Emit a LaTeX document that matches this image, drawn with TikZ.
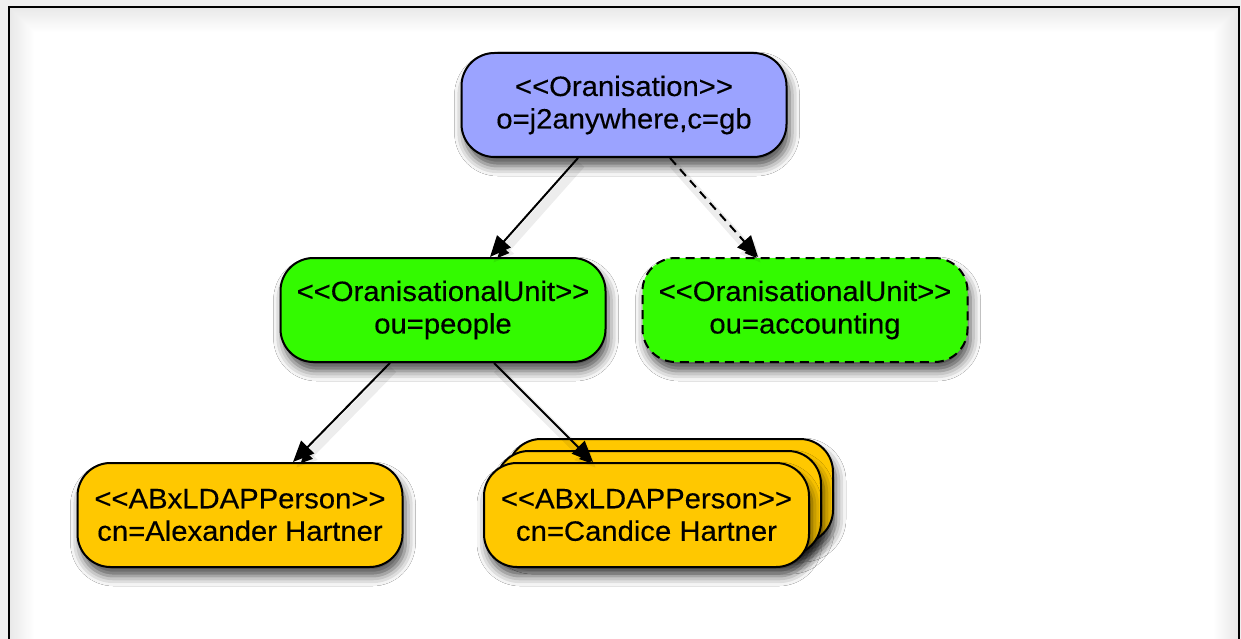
\documentclass[tikz,border=0pt]{standalone}
\usepackage{fontspec}
\setmainfont{Liberation Sans}[FakeStretch=1.045, FakeBold=0.3]
\usetikzlibrary{arrows.meta,calc,shadows.blur}

\definecolor{orgblue}{HTML}{9BA3FF}
\definecolor{ougreen}{HTML}{33FA00}
\definecolor{persongold}{HTML}{FFC800}
\definecolor{pagegray}{HTML}{EFEFEF}

% guillemet-like brackets kept as two separate characters
\newcommand\opn{<\kern0pt<}
\newcommand\cls{>\kern0pt>}

\tikzset{
  entry/.style={draw=black, line width=2pt, rounded corners=33pt,
    minimum width=325pt, minimum height=104pt, inner sep=0pt,
    align=center, font=\fontsize{28}{32.5}\selectfont,
    blur shadow={shadow xshift=3pt, shadow yshift=-9pt,
      shadow blur radius=10pt, shadow opacity=70}},
  optional/.style={dash pattern=on 9pt off 6pt},
  link/.style={draw=black, line width=2pt,
    -{Triangle[length=21pt,width=18pt]},
    preaction={draw=black, draw opacity=0.07, line width=9pt,
      transform canvas={shift={(3pt,-6pt)}}}},
}

\begin{document}
\begin{tikzpicture}[x=1pt, y=-1pt]
  % page and frame
  \useasboundingbox (0,0) rectangle (1241,639);
  \fill[pagegray] (0,0) rectangle (1241,639);
  \fill[white] (9,7) rectangle (1239,660);
  \foreach \i in {0,...,24}
    \draw[black, draw opacity={0.09*(1-\i/25)}, line width=1pt]
      (9.5+\i,7.5+\i) rectangle (1238.5-\i,700);
  \draw[black, line width=2pt] (9,700) -- (9,7) -- (1239,7) -- (1239,700);

  % organisation
  \node[entry, fill=orgblue] (org) at (624,105)
    {\opn Oranisation\cls\\o=j2anywhere,c=gb};

  % organisational units
  \node[entry, fill=ougreen] (people) at (443,310)
    {\opn OranisationalUnit\cls\\ou=people};
  \node[entry, fill=ougreen, optional] (accounting) at (805,310)
    {\opn OranisationalUnit\cls\\ou=accounting};

  % persons
  \node[entry, fill=persongold] (alex) at (240,515)
    {\opn ABxLDAPPerson\cls\\cn=Alexander Hartner};
  \node[entry, fill=persongold] (candice3) at (670.5,491) {};
  \node[entry, fill=persongold] (candice2) at (658.5,503) {};
  \node[entry, fill=persongold] (candice) at (646.5,515)
    {\opn ABxLDAPPerson\cls\\cn=Candice Hartner};

  % connectors
  \draw[link] ($(org.south)+(-46,0)$) -- ($(people.north)+(47,0)$);
  \draw[link, optional] ($(org.south)+(46,0)$) -- ($(accounting.north)+(-47,0)$);
  \draw[link] ($(people.south)+(-53,0)$) -- ($(alex.north)+(53,0)$);
  \draw[link] ($(people.south)+(51,0)$) -- ($(candice.north)+(-53.5,0)$);
\end{tikzpicture}
\end{document}
